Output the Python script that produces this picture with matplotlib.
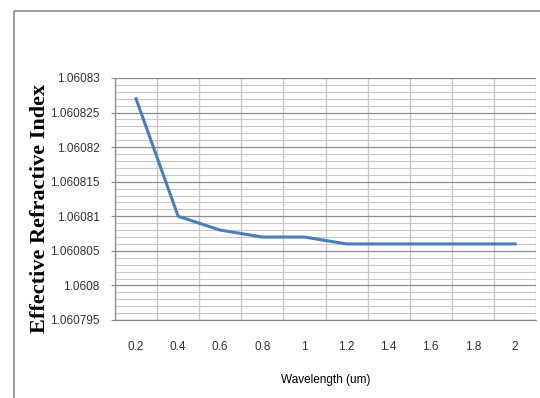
import matplotlib.pyplot as plt
import numpy as np
from matplotlib.patches import Rectangle

# data
wavelength = ['0.2', '0.4', '0.6', '0.8', '1', '1.2', '1.4', '1.6', '1.8', '2']
n_eff = [1.060827, 1.06081, 1.060808, 1.060807, 1.060807,
         1.060806, 1.060806, 1.060806, 1.060806, 1.060806]
y_ticks = [1.060795, 1.0608, 1.060805, 1.06081, 1.060815, 1.06082, 1.060825, 1.06083]
y_labels = ['1.060795', '1.0608', '1.060805', '1.06081', '1.060815', '1.06082', '1.060825', '1.06083']

tick_font = 'Liberation Sans'

fig = plt.figure(figsize=(5.4, 3.98), dpi=100)
# outer chart frame
fig.patches.append(Rectangle((14 / 540, -0.05), 1.0, 1 - 11 / 398 + 0.05,
                             transform=fig.transFigure, fill=False,
                             edgecolor='#8c8c8c', linewidth=1.2))

ax = fig.add_axes([115 / 540, 1 - 320 / 398, 421 / 540, 242 / 398])
x = np.arange(len(wavelength))
ax.plot(x, n_eff, color='#4a7ebb', linewidth=2.2, zorder=3)

ax.set_xlim(-0.5, len(wavelength) - 0.5)
ax.set_ylim(y_ticks[0], y_ticks[-1])

ax.set_xticks(x)
ax.set_xticklabels(wavelength, family=tick_font, fontsize=8.5)
ax.set_xticks(np.arange(len(wavelength) + 1) - 0.5, minor=True)
ax.set_yticks(y_ticks)
ax.set_yticklabels(y_labels, family=tick_font, fontsize=8.5)
ax.set_yticks(np.arange(y_ticks[0], y_ticks[-1] + 1e-7, 1e-6), minor=True)

ax.tick_params(axis='x', which='both', length=0, pad=15, colors='#333333')
ax.tick_params(axis='y', which='major', length=3, color='#8c8c8c', colors='#333333', pad=8)
ax.tick_params(axis='y', which='minor', length=0)

ax.grid(True, axis='y', which='major', color='#8c8c8c', linewidth=0.9)
ax.grid(True, axis='y', which='minor', color='#c8c8c8', linewidth=0.8)
ax.grid(True, axis='x', which='minor', color='#c8c8c8', linewidth=1.0)
ax.grid(False, axis='x', which='major')

for s in ['top', 'right']:
    ax.spines[s].set_visible(False)
for s in ['left', 'bottom']:
    ax.spines[s].set_color('#8c8c8c')
    ax.spines[s].set_linewidth(0.9)

ax.set_xlabel('Wavelength (um)', family=tick_font, fontsize=8.5, labelpad=15)
ax.set_ylabel('Effective Refractive Index', family='Liberation Serif',
              fontsize=16, fontweight='bold')
ax.yaxis.set_label_coords(-0.154, 0.463)

fig.savefig('out.png', dpi=100)
